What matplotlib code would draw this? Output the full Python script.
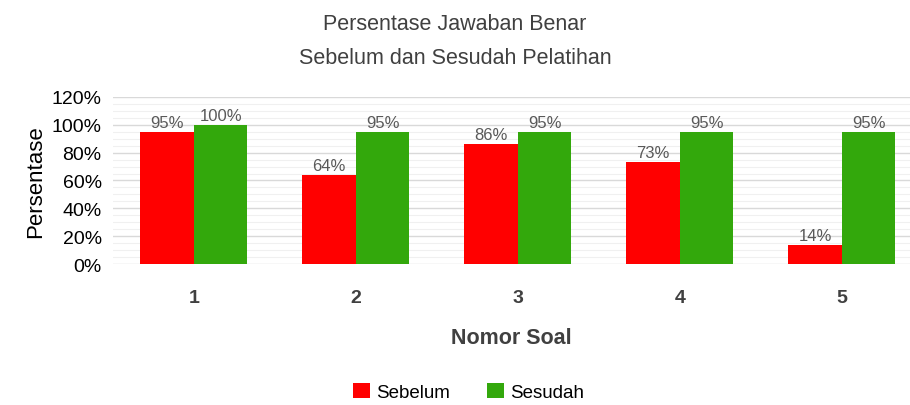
import matplotlib.pyplot as plt
import numpy as np
from matplotlib.ticker import MultipleLocator, PercentFormatter

# --- Data ---
soal = ["1", "2", "3", "4", "5"]
sebelum = [95, 64, 86, 73, 14]
sesudah = [100, 95, 95, 95, 95]

red = "#ff0000"
green = "#33a80c"
text_dark = "#404040"

plt.rcParams['font.family'] = ['Liberation Sans', 'DejaVu Sans']

fig = plt.figure(figsize=(9.1, 4.06), dpi=100)
ax = fig.add_axes([0.124, 0.347, 0.876, 0.412])

x = np.arange(len(soal))
w = 0.33
b1 = ax.bar(x - w / 2, sebelum, w, color=red, label="Sebelum", zorder=3)
b2 = ax.bar(x + w / 2, sesudah, w, color=green, label="Sesudah", zorder=3)

for bars, vals in ((b1, sebelum), (b2, sesudah)):
    for rect, v in zip(bars, vals):
        ax.text(rect.get_x() + rect.get_width() / 2, v + 1.5, f"{v}%",
                ha="center", va="bottom", fontsize=12, color="#595959")

ax.set_xlim(-0.5, len(soal) - 0.58)
ax.set_ylim(0, 120)
ax.yaxis.set_major_locator(MultipleLocator(20))
ax.yaxis.set_minor_locator(MultipleLocator(5))
ax.yaxis.set_major_formatter(PercentFormatter(decimals=0))
ax.grid(axis="y", which="major", color="#d9d9d9", linewidth=1, zorder=0)
ax.grid(axis="y", which="minor", color="#f0f0f0", linewidth=0.8, zorder=0)

ax.set_xticks(x)
ax.set_xticklabels(soal, fontsize=14, fontweight="bold", color=text_dark)
ax.tick_params(axis="y", which="both", labelsize=14, colors="black", length=0, pad=8)
ax.tick_params(axis="x", length=0, pad=18)
for s in ax.spines.values():
    s.set_visible(False)

ax.set_ylabel("Persentase", fontsize=16, color="black", labelpad=4)
ax.set_xlabel("Nomor Soal", fontsize=15.5, fontweight="bold", color=text_dark, labelpad=15)

fig.text(0.5, 0.94, "Persentase Jawaban Benar", ha="center", va="center",
         fontsize=15.5, color=text_dark)
fig.text(0.5, 0.855, "Sebelum dan Sesudah Pelatihan", ha="center", va="center",
         fontsize=15.5, color=text_dark)

fig.legend(loc="lower center", bbox_to_anchor=(0.515, -0.032), ncol=2, frameon=False,
           fontsize=13.5, handlelength=0.9, handleheight=0.9, handletextpad=0.3,
           columnspacing=2.0)

fig.savefig("out.png", dpi=100)
